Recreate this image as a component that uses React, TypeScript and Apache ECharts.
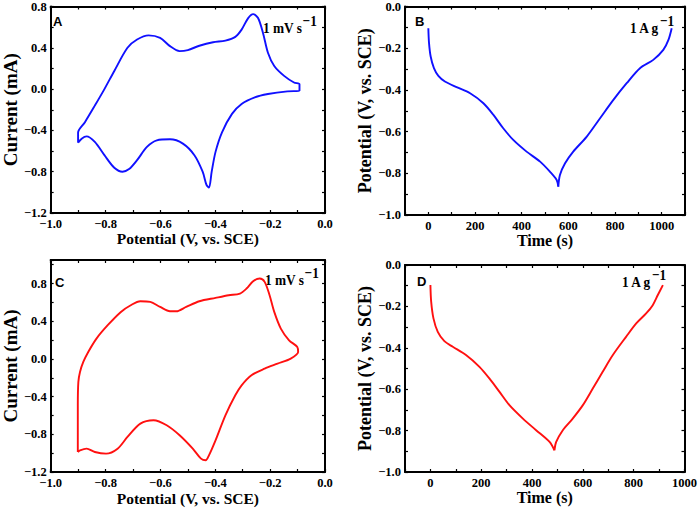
import React, { useEffect, useRef } from 'react';
import * as echarts from 'echarts';

// Panel A: CV loop (blue)
const aPotential = [-0.90, -0.90, -0.875, -0.839, -0.804, -0.768, -0.72, -0.685, -0.643, -0.601, -0.565, -0.53, -0.5, -0.458, -0.408, -0.363, -0.327, -0.304, -0.28, -0.262, -0.244, -0.226, -0.208, -0.185, -0.149, -0.113, -0.093, -0.093, -0.137, -0.208, -0.256, -0.304, -0.339, -0.375, -0.399, -0.413, -0.423, -0.432, -0.446, -0.476, -0.518, -0.565, -0.613, -0.649, -0.685, -0.714, -0.738, -0.768, -0.804, -0.839, -0.869, -0.887, -0.90];
const aCurrent = [-0.52, -0.42, -0.32, -0.16, 0.0, 0.176, 0.40, 0.48, 0.52, 0.496, 0.416, 0.368, 0.378, 0.42, 0.454, 0.47, 0.506, 0.576, 0.688, 0.726, 0.688, 0.544, 0.352, 0.224, 0.128, 0.064, 0.048, -0.016, -0.022, -0.048, -0.08, -0.144, -0.24, -0.416, -0.608, -0.8, -0.954, -0.928, -0.8, -0.64, -0.528, -0.486, -0.496, -0.56, -0.688, -0.774, -0.8, -0.762, -0.64, -0.512, -0.458, -0.48, -0.52];

// Panel C: CV loop (red)
const cPotential = [-0.901, -0.901, -0.899, -0.893, -0.881, -0.863, -0.833, -0.792, -0.744, -0.708, -0.673, -0.637, -0.601, -0.565, -0.542, -0.506, -0.458, -0.399, -0.351, -0.31, -0.286, -0.262, -0.238, -0.22, -0.202, -0.185, -0.161, -0.131, -0.101, -0.098, -0.125, -0.173, -0.22, -0.268, -0.304, -0.327, -0.363, -0.399, -0.423, -0.435, -0.452, -0.482, -0.53, -0.577, -0.625, -0.673, -0.72, -0.756, -0.798, -0.839, -0.869, -0.893, -0.901];
const cCurrent = [-0.988, -0.492, -0.244, -0.138, -0.032, 0.074, 0.216, 0.358, 0.499, 0.57, 0.612, 0.605, 0.552, 0.506, 0.506, 0.552, 0.612, 0.648, 0.676, 0.694, 0.747, 0.825, 0.853, 0.818, 0.676, 0.499, 0.322, 0.198, 0.127, 0.074, 0.004, -0.05, -0.103, -0.173, -0.28, -0.386, -0.598, -0.864, -1.023, -1.076, -1.058, -0.952, -0.81, -0.704, -0.651, -0.687, -0.828, -0.952, -1.005, -0.988, -0.952, -0.97, -0.988];

// Panel B: GCD (blue)
const bDisTime = [0, 3, 10, 24, 43, 71, 121, 179, 236, 279, 321, 364, 421, 479, 521, 550, 557];
const bDisPot = [-0.104, -0.176, -0.24, -0.296, -0.333, -0.36, -0.387, -0.416, -0.464, -0.52, -0.584, -0.64, -0.696, -0.744, -0.792, -0.832, -0.864];
const bChgTime = [557, 564, 586, 621, 679, 736, 793, 850, 907, 964, 1007, 1029, 1043];
const bChgPot = [-0.864, -0.808, -0.752, -0.696, -0.624, -0.536, -0.448, -0.368, -0.296, -0.256, -0.208, -0.16, -0.104];

// Panel D: GCD (red)
const dDisTime = [0, 3, 12, 29, 55, 88, 140, 193, 232, 272, 311, 364, 416, 469, 488];
const dDisPot = [-0.097, -0.177, -0.258, -0.323, -0.368, -0.395, -0.435, -0.492, -0.548, -0.613, -0.677, -0.742, -0.798, -0.855, -0.895];
const dChgTime = [488, 495, 521, 560, 600, 639, 678, 718, 770, 810, 849, 875, 895, 915];
const dChgPot = [-0.895, -0.855, -0.798, -0.742, -0.677, -0.597, -0.516, -0.435, -0.347, -0.282, -0.234, -0.194, -0.145, -0.097];

const panelLetters = ['A', 'B', 'C', 'D'];
const cvRate = '1 mV s';
const gcdRate = '1 A g';
const superscript = '\u22121';

const SERIF = '"Liberation Serif", "Times New Roman", serif';
const SANS = '"Liberation Sans", Arial, sans-serif';
const BLUE = '#1010ff';
const RED = '#ff1010';

const zip = (xs: number[], ys: number[]) => xs.map((x, i) => [x, ys[i]]);

const makeFmt = (base: number, step: number, lo: number, hi: number, dec: number) => (v: number) => {
  const k = (v - base) / step;
  if (Math.abs(k - Math.round(k)) > 1e-6) return '';
  if (v < lo - 1e-9 || v > hi + 1e-9) return '';
  return v.toFixed(dec).replace('-', '\u2212');
};

interface AxisCfg {
  g: number; min: number; max: number; step: number; pos: string;
  fmt?: (v: number) => string; name?: string; nameGap?: number; nameSize?: number;
}

const mkAxis = (o: AxisCfg) => ({
  type: 'value',
  gridIndex: o.g,
  min: o.min,
  max: o.max,
  interval: o.step,
  position: o.pos,
  axisLine: { show: true, onZero: false, lineStyle: { color: '#000', width: 2 } },
  axisTick: { show: true, inside: true, length: 3, lineStyle: { color: '#000', width: 1.2 } },
  splitLine: { show: false },
  axisLabel: o.fmt
    ? { show: true, formatter: o.fmt, color: '#000', fontFamily: SERIF, fontWeight: 'bold', fontSize: 12.5, margin: 4 }
    : { show: false },
  name: o.name || '',
  nameLocation: 'middle',
  nameGap: o.nameGap || 0,
  nameTextStyle: { color: '#000', fontFamily: SERIF, fontWeight: 'bold', fontSize: o.nameSize || 16 },
});

const NOTE_SIZE = 15.5;
const NOTE_SCALE = 0.86;

const measure = (text: string, size: number) => {
  const ctx = document.createElement('canvas').getContext('2d');
  if (!ctx) return text.length * size * 0.5;
  ctx.font = `bold ${size}px ${SERIF}`;
  return ctx.measureText(text).width;
};

const App: React.FC = () => {
  const ref = useRef<HTMLDivElement>(null);
  useEffect(() => {
    if (!ref.current) return;
    const chart = echarts.init(ref.current, undefined, { renderer: 'svg' });

    const grids = [
      { left: 45, top: 6, width: 280, height: 207 },
      { left: 405, top: 6, width: 280, height: 209 },
      { left: 45, top: 260, width: 280, height: 212 },
      { left: 405, top: 265, width: 280, height: 207 },
    ];

    const cvX = makeFmt(-1.0, 0.2, -1.0, 0.0, 1);
    const cvY = makeFmt(-1.2, 0.4, -1.2, 0.8, 1);
    const gcdX = makeFmt(0, 200, 0, 1000, 0);
    const gcdY = makeFmt(-1.0, 0.2, -1.0, 0.0, 1);

    const xAxis = [
      mkAxis({ g: 0, min: -1.0, max: 0.0, step: 0.1, pos: 'bottom', fmt: cvX, name: 'Potential (V, vs. SCE)', nameGap: 17, nameSize: 15.5 }),
      mkAxis({ g: 0, min: -1.0, max: 0.0, step: 0.1, pos: 'top' }),
      mkAxis({ g: 1, min: -100, max: 1100, step: 100, pos: 'bottom', fmt: gcdX, name: 'Time (s)', nameGap: 15, nameSize: 16 }),
      mkAxis({ g: 1, min: -100, max: 1100, step: 100, pos: 'top' }),
      mkAxis({ g: 2, min: -1.0, max: 0.0, step: 0.1, pos: 'bottom', fmt: cvX, name: 'Potential (V, vs. SCE)', nameGap: 18, nameSize: 15.5 }),
      mkAxis({ g: 2, min: -1.0, max: 0.0, step: 0.1, pos: 'top' }),
      mkAxis({ g: 3, min: -100, max: 1000, step: 100, pos: 'bottom', fmt: gcdX, name: 'Time (s)', nameGap: 13, nameSize: 16 }),
      mkAxis({ g: 3, min: -100, max: 1000, step: 100, pos: 'top' }),
    ];
    const yAxis = [
      mkAxis({ g: 0, min: -1.2, max: 0.8, step: 0.2, pos: 'left', fmt: cvY, name: 'Current (mA)', nameGap: 29, nameSize: 19 }),
      mkAxis({ g: 0, min: -1.2, max: 0.8, step: 0.2, pos: 'right' }),
      mkAxis({ g: 1, min: -1.0, max: 0.0, step: 0.1, pos: 'left', fmt: gcdY, name: 'Potential (V, vs. SCE)', nameGap: 27, nameSize: 18 }),
      mkAxis({ g: 1, min: -1.0, max: 0.0, step: 0.1, pos: 'right' }),
      mkAxis({ g: 2, min: -1.2, max: 1.05, step: 0.2, pos: 'left', fmt: cvY, name: 'Current (mA)', nameGap: 29, nameSize: 19 }),
      mkAxis({ g: 2, min: -1.2, max: 1.05, step: 0.2, pos: 'right' }),
      mkAxis({ g: 3, min: -1.0, max: 0.0, step: 0.1, pos: 'left', fmt: gcdY, name: 'Potential (V, vs. SCE)', nameGap: 29, nameSize: 18 }),
      mkAxis({ g: 3, min: -1.0, max: 0.0, step: 0.1, pos: 'right' }),
    ];

    const line = (p: number, data: number[][], color: string, smooth: number) => ({
      type: 'line',
      xAxisIndex: 2 * p,
      yAxisIndex: 2 * p,
      data,
      showSymbol: false,
      smooth,
      lineStyle: { color, width: 1.9 },
      silent: true,
    });

    const series = [
      line(0, zip(aPotential, aCurrent), BLUE, 0.3),
      line(1, zip(bDisTime, bDisPot), BLUE, 0.3),
      line(1, zip(bChgTime, bChgPot), BLUE, 0.3),
      line(2, zip(cPotential, cCurrent), RED, 0.3),
      line(3, zip(dDisTime, dDisPot), RED, 0.3),
      line(3, zip(dChgTime, dChgPot), RED, 0.3),
    ];

    const txt = (text: string, x: number, y: number, family: string, size: number, scaleX = 1) => ({
      type: 'text',
      x,
      y,
      scaleX,
      silent: true,
      style: {
        text,
        x: 0,
        y: 0,
        fill: '#000',
        fontFamily: family,
        fontWeight: 'bold',
        fontSize: size,
        align: 'left',
        verticalAlign: 'middle',
        textAlign: 'left',
        textVerticalAlign: 'middle',
      },
    });

    const note = (main: string, x: number, y: number) => {
      const w = measure(main, NOTE_SIZE) * NOTE_SCALE;
      return [
        txt(main, x, y, SERIF, NOTE_SIZE, NOTE_SCALE),
        txt(superscript, x + w + 0.3, y - 7, SERIF, NOTE_SIZE, NOTE_SCALE),
      ];
    };

    const graphic = [
      txt(panelLetters[0], 53, 21, SANS, 13),
      txt(panelLetters[1], 415, 21, SANS, 13),
      txt(panelLetters[2], 55, 282, SANS, 13),
      txt(panelLetters[3], 417, 281, SANS, 13),
      ...note(cvRate, 263, 28),
      ...note(gcdRate, 630, 28),
      ...note(cvRate, 265, 280),
      ...note(gcdRate, 622, 282),
    ];

    chart.setOption({
      animation: false,
      backgroundColor: '#fff',
      grid: grids,
      xAxis,
      yAxis,
      series,
      graphic,
    });
    return () => chart.dispose();
  }, []);

  return (
    <div
      ref={ref}
      style={{ position: 'fixed', left: 0, top: 0, width: 700, height: 509, background: '#fff' }}
    />
  );
};

export default App;
